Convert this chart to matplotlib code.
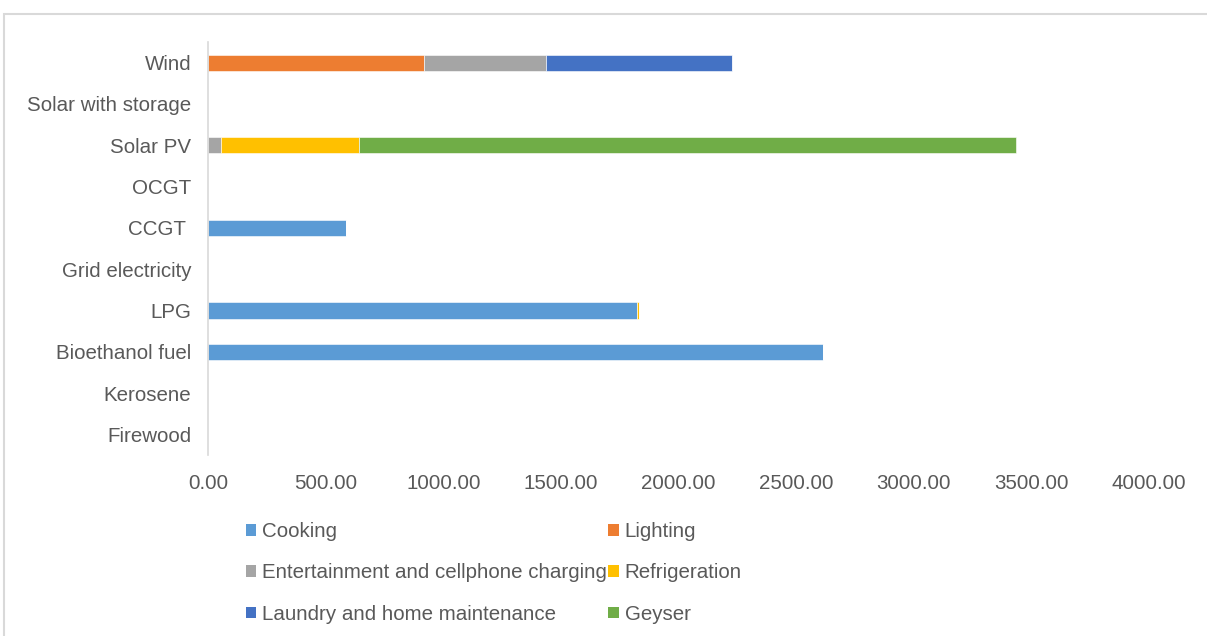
import matplotlib as mpl
mpl.use("Agg")
mpl.rc('font', family='Liberation Sans', size=14.8)
import matplotlib.pyplot as plt
from matplotlib.patches import Patch, Rectangle
import numpy as np

# technologies, bottom row first
techs = ["Firewood", "Kerosene", "Bioethanol fuel", "LPG", "Grid electricity",
         "CCGT ", "OCGT", "Solar PV", "Solar with storage", "Wind"]

cooking       = [0, 0, 2614, 1825, 0, 587, 0, 0, 0, 0]
lighting      = [0, 0, 0, 0, 0, 0, 0, 0, 0, 918]
entertainment = [0, 0, 0, 0, 0, 0, 0, 55, 0, 519]
refrigeration = [0, 0, 0, 7, 0, 0, 0, 587, 0, 0]
laundry       = [0, 0, 0, 0, 0, 0, 0, 0, 0, 791]
geyser        = [0, 0, 0, 0, 0, 0, 0, 2793, 0, 0]

uses = ["Cooking", "Lighting", "Entertainment and cellphone charging",
        "Refrigeration", "Laundry and home maintenance", "Geyser"]
series = [cooking, lighting, entertainment, refrigeration, laundry, geyser]
colors = ["#5B9BD5", "#ED7D31", "#A5A5A5", "#FFC000", "#4472C4", "#70AD47"]

xticks = [0, 500, 1000, 1500, 2000, 2500, 3000, 3500, 4000]
txtc = "#595959"

fig = plt.figure(figsize=(12.07, 6.36), dpi=100)
# chart frame
fig.patches.append(Rectangle((4/1207, -0.1), 1.2, 1 - 14/636 + 0.1,
                             transform=fig.transFigure, fill=False,
                             edgecolor="#d9d9d9", linewidth=1.5))
ax = fig.add_axes([208/1207, 1 - 455/636, (1149-208)/1207, (455-42)/636])

y = np.arange(len(techs))
left = np.zeros(len(techs))
for name, vals, c in zip(uses, series, colors):
    vals = np.array(vals, dtype=float)
    ax.barh(y, vals, left=left, height=0.39, color=c, label=name,
            edgecolor="white", linewidth=0.4)
    left += vals

ax.set_xlim(0, 4000)
ax.set_ylim(-0.5, len(techs) - 0.5)
ax.set_yticks(y)
ax.set_yticklabels(techs, color=txtc)
ax.set_xticks(xticks)
ax.set_xticklabels(["%.2f" % v for v in xticks], color=txtc)
ax.tick_params(axis='both', length=0)
ax.tick_params(axis='y', pad=12)
ax.tick_params(axis='x', pad=14)
for s in ["top", "right", "bottom"]:
    ax.spines[s].set_visible(False)
ax.spines["left"].set_color("#d9d9d9")
ax.spines["left"].set_linewidth(1.2)

# legend, filled row by row
handles = [Patch(facecolor=c, edgecolor="none") for c in colors]
order = [0, 2, 4, 1, 3, 5]
leg = fig.legend([handles[i] for i in order], [uses[i] for i in order],
                 ncol=2, loc="upper left", bbox_to_anchor=(246/1207, 1 - 522/636),
                 frameon=False, handlelength=0.5, handleheight=0.5,
                 handletextpad=0.3, columnspacing=0.05, labelspacing=1.09,
                 borderaxespad=0, borderpad=0)
for t in leg.get_texts():
    t.set_color(txtc)

fig.savefig("out.png", dpi=100)
